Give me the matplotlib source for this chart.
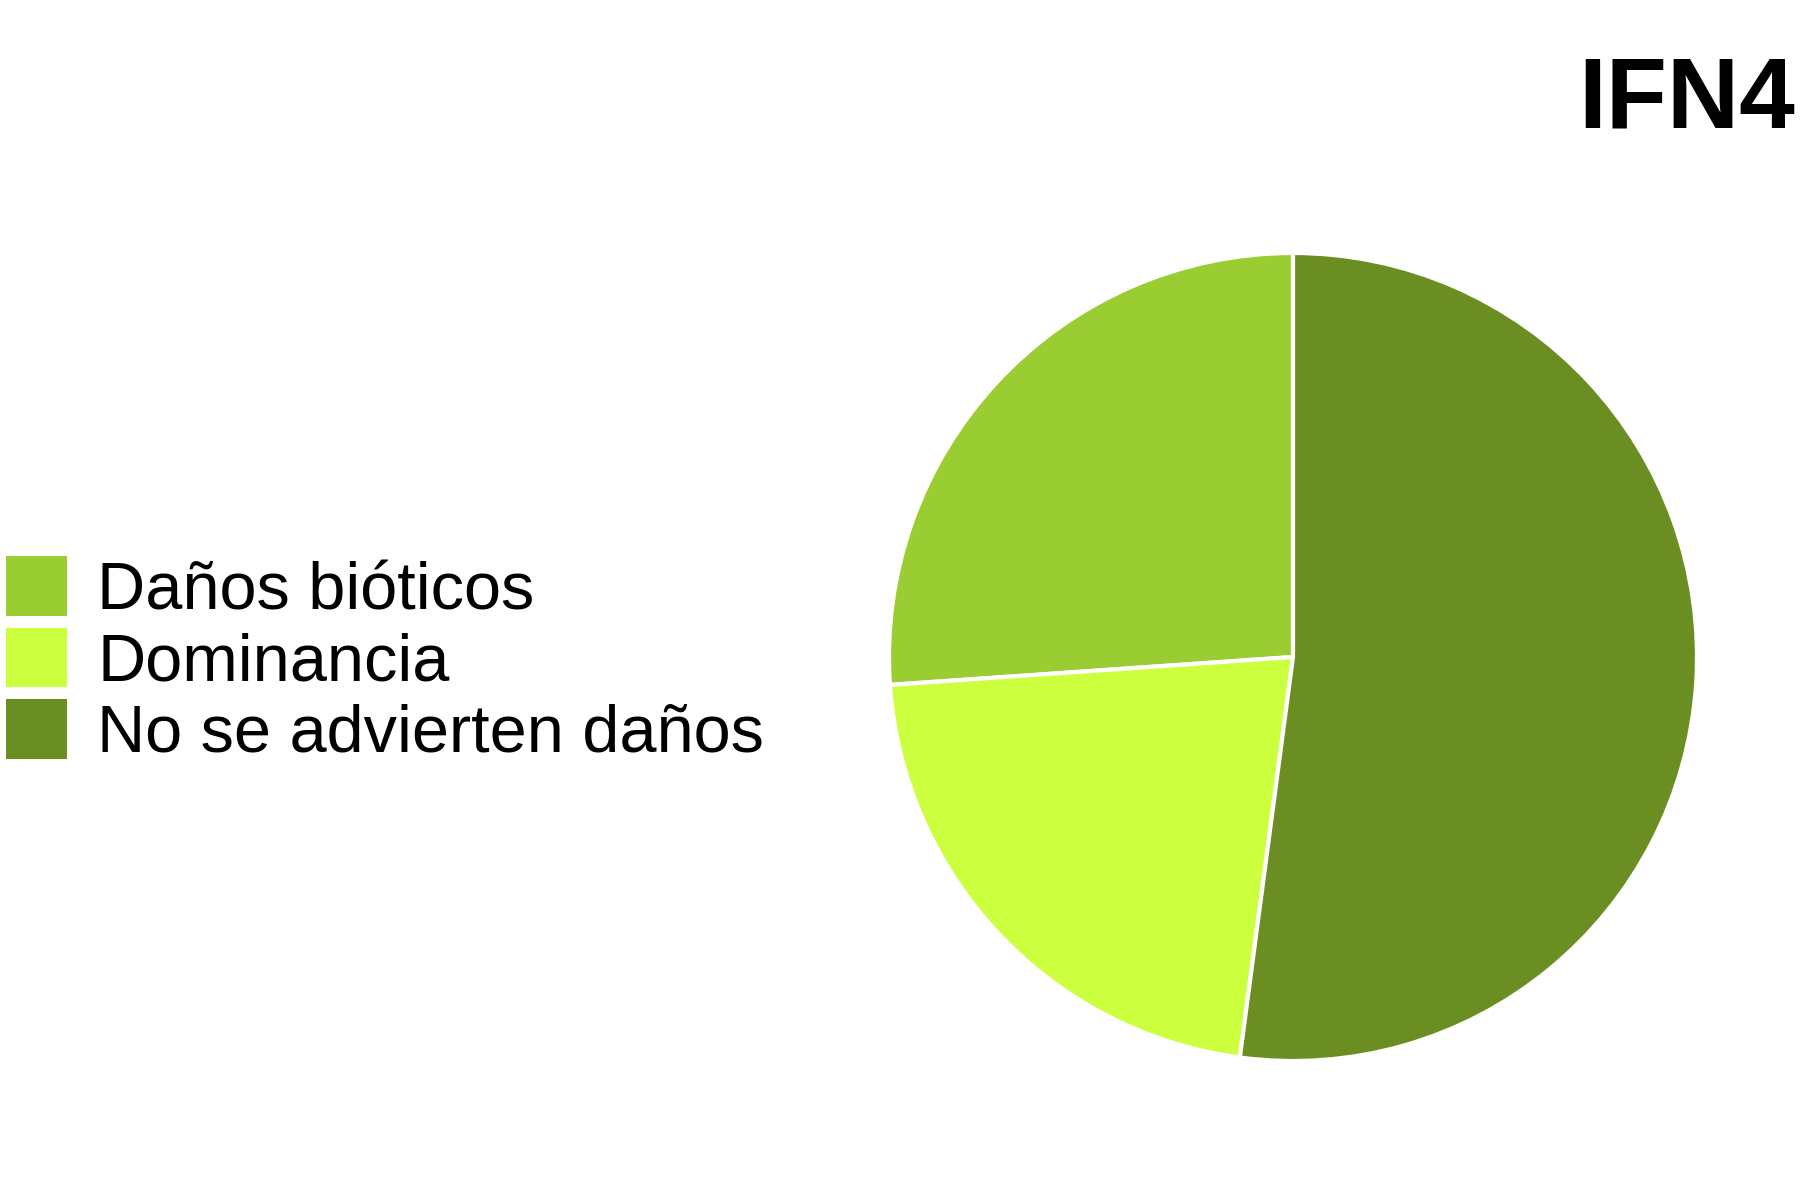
import matplotlib
matplotlib.use("Agg")
import matplotlib.pyplot as plt
from matplotlib.patches import Patch

plt.rcParams['font.family'] = ['Liberation Sans', 'DejaVu Sans']

# shares (percent)
labels = ["Daños bióticos", "Dominancia", "No se advierten daños"]
values = [26.1, 21.8, 52.1]
colors = ["#9ACD32", "#CCFF3D", "#6B8E23"]
title = "IFN4"

fig = plt.figure(figsize=(18, 12), dpi=100)

# pie axes: centre ~ (1293, 657) px, radius ~404 px
r_w = 404 / 1800
r_h = 404 / 1200
cx, cy = 1293 / 1800, 1 - 657 / 1200
ax = fig.add_axes([cx - r_w, cy - r_h, 2 * r_w, 2 * r_h])
ax.pie(values, colors=colors, startangle=90, counterclock=True,
       wedgeprops=dict(edgecolor="white", linewidth=3))
ax.set_xlim(-1.0, 1.0)
ax.set_ylim(-1.0, 1.0)
ax.set_aspect("equal")
ax.axis("off")

handles = [Patch(facecolor=c, edgecolor="none") for c in colors]
fig.legend(handles, labels, loc="center left",
           bbox_to_anchor=(6 / 1800, cy - 4 / 1200),
           frameon=False, fontsize=48, handlelength=0.92, handleheight=1.0,
           handletextpad=0.45, labelspacing=0.07, borderaxespad=0.0,
           borderpad=0.0)

fig.text(0.997, 1 - 102 / 1200, title, ha="right", va="center",
         fontsize=72, fontweight="bold")

fig.savefig("out.png", dpi=100)
